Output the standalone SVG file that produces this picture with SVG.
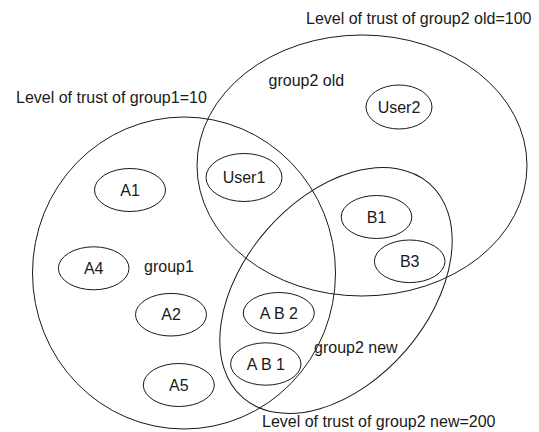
<svg xmlns="http://www.w3.org/2000/svg" width="539" height="432" viewBox="0 0 539 432">
<style>
.g{fill:none;stroke:#1a1a1a;stroke-width:1}
.n{fill:#fff;stroke:#1a1a1a;stroke-width:1}
text{font-family:"Liberation Sans",Arial,sans-serif;font-size:16px;fill:#1a1a1a}
.c{text-anchor:middle}
</style>
<rect width="539" height="432" fill="#fff"/>
<g id="group1"><ellipse class="g" cx="184" cy="273" rx="151.5" ry="156"/></g>
<g id="group2old"><ellipse class="g" cx="362" cy="165.5" rx="165" ry="130.5"/></g>
<g id="group2new"><ellipse class="g" cx="336" cy="290.5" rx="142" ry="92" transform="rotate(-49 336 290.5)"/></g>
<g id="connectors"></g>
<g id="labels">
<text x="16" y="103">Level of trust of group1=10</text>
<text x="306" y="24">Level of trust of group2 old=100</text>
<text x="268.5" y="86">group2 old</text>
<text x="144" y="272">group1</text>
<text x="314" y="353">group2 new</text>
<text x="262" y="427">Level of trust of group2 new=200</text>
</g>
<g id="User2"><ellipse class="g" cx="399" cy="107" rx="33" ry="22"/><text class="c" x="399" y="112.5">User2</text></g>
<g id="User1"><ellipse class="g" cx="244" cy="177.5" rx="38" ry="24"/><text class="c" x="244" y="183">User1</text></g>
<g id="A1"><ellipse class="g" cx="130" cy="190" rx="35.5" ry="21.5"/><text class="c" x="130" y="195.5">A1</text></g>
<g id="A4"><ellipse class="g" cx="93.7" cy="268.3" rx="35.3" ry="21.5"/><text class="c" x="93.7" y="273.8">A4</text></g>
<g id="A2"><ellipse class="g" cx="171" cy="314.7" rx="35.5" ry="21.3"/><text class="c" x="171" y="320.2">A2</text></g>
<g id="A5"><ellipse class="g" cx="178.8" cy="385" rx="35.5" ry="21.5"/><text class="c" x="178.8" y="390.5">A5</text></g>
<g id="AB2"><ellipse class="g" cx="278.8" cy="313" rx="35.5" ry="20.5"/><text class="c" x="278.8" y="318.5">A B 2</text></g>
<g id="AB1"><ellipse class="g" cx="265.8" cy="364" rx="35.2" ry="21.2"/><text class="c" x="265.8" y="369.5">A B 1</text></g>
<g id="B1"><ellipse class="g" cx="376.5" cy="217" rx="35.3" ry="21.5"/><text class="c" x="376.5" y="222.5">B1</text></g>
<g id="B3"><ellipse class="g" cx="409.7" cy="261.3" rx="35.3" ry="21.3"/><text class="c" x="409.7" y="266.8">B3</text></g>
</svg>
